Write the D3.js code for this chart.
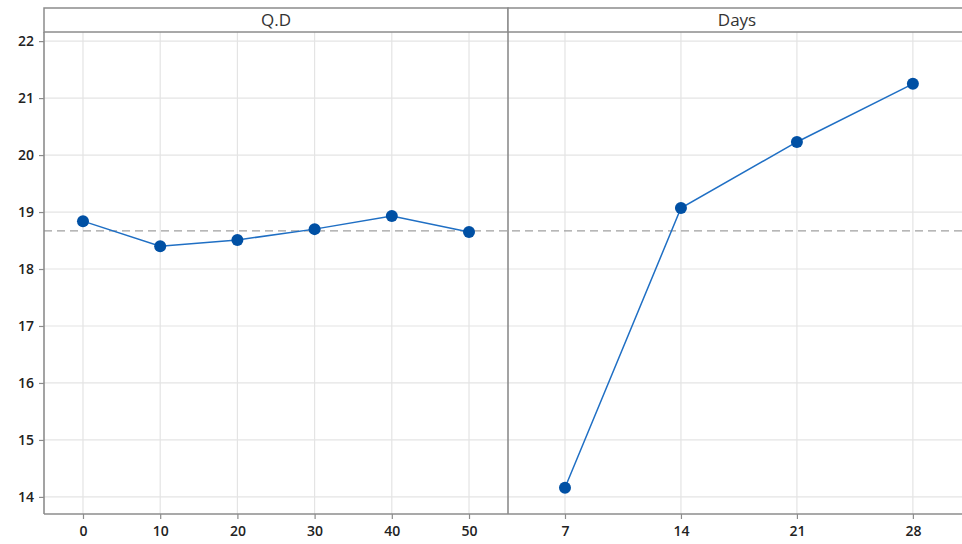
<!DOCTYPE html>
<html><head><meta charset="utf-8">
<script src="https://cdn.jsdelivr.net/npm/d3@7"></script>
<style>body{margin:0;background:#fff}svg{display:block}</style>
</head><body>
<script>
const qdLevels = [0, 10, 20, 30, 40, 50];
const qdMeans = [18.84, 18.40, 18.51, 18.70, 18.93, 18.65];
const dayLevels = [7, 14, 21, 28];
const dayMeans = [14.16, 19.07, 20.23, 21.25];
const panelTitles = ["Q.D", "Days"];
const yTicks = [14, 15, 16, 17, 18, 19, 20, 21, 22];
const grandMean = 18.67;

(function () {
const W = 962, H = 544;
const svg = d3.select("body").append("svg").attr("width", W).attr("height", H);
const plotTop = 32, plotBottom = 514, headTop = 8;
const y = d3.scaleLinear().domain([13.70, 22.16]).range([plotBottom, plotTop]);

const panels = [
  {title: panelTitles[0], levels: qdLevels, means: qdMeans, x0: 44, x1: 508, dom: [-5.05, 55.05]},
  {title: panelTitles[1], levels: dayLevels, means: dayMeans, x0: 508, x1: 975, dom: [3.56, 31.75]}
];
const gridCol = "#e4e4e4", frameCol = "#8c8c8c", lineCol = "#1f6fc4", ptCol = "#0050a4";
const font = "'Open Sans', 'Noto Sans', sans-serif";

panels.forEach((p, i) => {
  const x = d3.scaleLinear().domain(p.dom).range([p.x0, p.x1]);
  const g = svg.append("g");
  g.selectAll(".hg").data(yTicks).join("line")
    .attr("x1", p.x0).attr("x2", p.x1).attr("y1", d => y(d)).attr("y2", d => y(d))
    .attr("stroke", gridCol).attr("stroke-width", 1.2);
  g.selectAll(".vg").data(p.levels).join("line")
    .attr("x1", d => x(d)).attr("x2", d => x(d)).attr("y1", plotTop).attr("y2", plotBottom)
    .attr("stroke", gridCol).attr("stroke-width", 1.2);
  const ax = g.append("g").attr("transform", `translate(0,${plotBottom})`)
    .call(d3.axisBottom(x).tickValues(p.levels).tickSize(5).tickPadding(7));
  ax.select(".domain").remove();
  ax.selectAll(".tick line").attr("stroke", frameCol).attr("stroke-width", 1.2);
  ax.selectAll("text").attr("font-family", font).attr("font-size", 14).attr("fill", "#222").attr("font-weight", 600);
  g.append("rect").attr("x", p.x0).attr("y", headTop).attr("width", p.x1 - p.x0).attr("height", plotTop - headTop)
    .attr("fill", "#fff").attr("stroke", frameCol).attr("stroke-width", 1.5);
  g.append("text").attr("x", (p.x0 + Math.min(p.x1, W + 10)) / 2 - (i === 1 ? 3 : 0)).attr("y", 26)
    .attr("text-anchor", "middle").attr("font-family", font).attr("font-size", 17).attr("fill", "#333")
    .text(p.title);
  p.x = x;
});

svg.append("line").attr("x1", 44).attr("x2", W).attr("y1", y(grandMean)).attr("y2", y(grandMean))
  .attr("stroke", "#a0a0a0").attr("stroke-width", 1.3).attr("stroke-dasharray", "8,5");

svg.append("line").attr("x1", 508).attr("x2", 508).attr("y1", plotTop).attr("y2", plotBottom).attr("stroke", frameCol).attr("stroke-width", 1.6);
svg.append("line").attr("x1", 44).attr("x2", W).attr("y1", plotBottom).attr("y2", plotBottom).attr("stroke", frameCol).attr("stroke-width", 1.6);
svg.append("line").attr("x1", 44).attr("x2", 44).attr("y1", plotTop).attr("y2", plotBottom).attr("stroke", frameCol).attr("stroke-width", 1.6);

const ay = svg.append("g").attr("transform", "translate(44,0)")
  .call(d3.axisLeft(y).tickValues(yTicks).tickSize(5).tickPadding(5));
ay.select(".domain").remove();
ay.selectAll(".tick line").attr("stroke", frameCol).attr("stroke-width", 1.2);
ay.selectAll("text").attr("font-family", font).attr("font-size", 14).attr("fill", "#222").attr("font-weight", 600);

panels.forEach(p => {
  const data = p.levels.map((l, i) => [l, p.means[i]]);
  svg.append("path").datum(data)
    .attr("d", d3.line().x(d => p.x(d[0])).y(d => y(d[1])))
    .attr("fill", "none").attr("stroke", lineCol).attr("stroke-width", 1.5);
  svg.selectAll(null).data(data).join("circle")
    .attr("cx", d => p.x(d[0])).attr("cy", d => y(d[1])).attr("r", 6).attr("fill", ptCol);
});
})();
</script>
</body></html>
